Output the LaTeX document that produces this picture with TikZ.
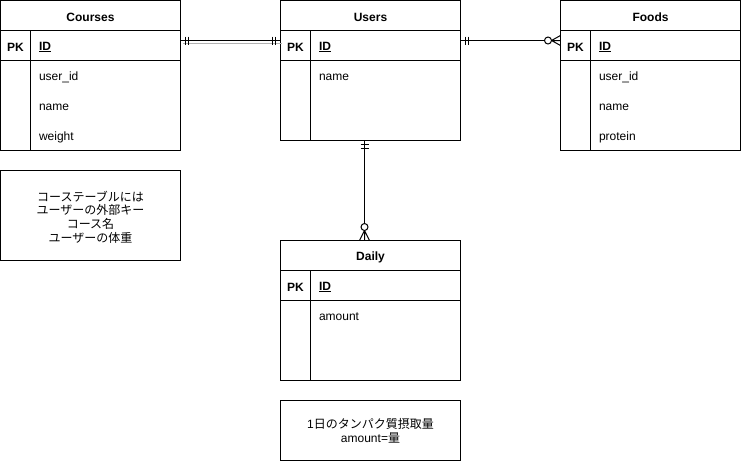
\documentclass[tikz,border=0pt]{standalone}
\usepackage{fontspec}
\setmainfont{Liberation Sans}
\newfontfamily\jp{Noto Sans CJK JP}
\begin{document}
\begin{tikzpicture}[x=1pt,y=-1pt,line width=1pt,
  tbl/.style={draw,rectangle,anchor=north west,minimum width=180pt,inner sep=0pt,outer sep=0pt},
  hdr/.style={font=\fontsize{12}{14}\selectfont\bfseries,inner sep=0pt,yshift=-1.5pt},
  pkl/.style={font=\fontsize{12}{14}\selectfont\bfseries,inner sep=0pt,yshift=-1.5pt},
  fld/.style={font=\fontsize{12}{14}\selectfont,inner sep=0pt,anchor=west,yshift=-1.5pt},
  note/.style={draw,rectangle,anchor=north west,minimum width=180pt,inner sep=0pt,outer sep=0pt},
  notetxt/.style={font=\fontsize{12}{13.7}\selectfont,align=center,inner sep=0pt},
  rel/.style={line width=1pt},
  relmark/.style={line width=1pt}]
\useasboundingbox (0,0) rectangle (741,461);

% ---------- Courses ----------
\node[tbl,minimum height=150pt] (courses) at (0.5,0.5) {};
\draw ([yshift=-30pt]courses.north west) -- ([yshift=-30pt]courses.north east);
\draw ([yshift=-60pt]courses.north west) -- ([yshift=-60pt]courses.north east);
\draw ([xshift=30pt,yshift=-30pt]courses.north west) -- ([xshift=30pt]courses.south west);
\node[hdr] (coursesT) at ([yshift=-15pt]courses.north) {Courses};
\node[pkl] (coursesPK) at ([xshift=15pt,yshift=-45pt]courses.north west) {PK};
\node[fld,font=\fontsize{12}{14}\selectfont\bfseries] (coursesID) at ([xshift=38pt,yshift=-45pt]courses.north west) {\underline{ID}};
\node[fld] (coursesF1) at ([xshift=38pt,yshift=-75pt]courses.north west) {user\_id};
\node[fld] (coursesF2) at ([xshift=38pt,yshift=-105pt]courses.north west) {name};
\node[fld] (coursesF3) at ([xshift=38pt,yshift=-135pt]courses.north west) {weight};

% ---------- Users ----------
\node[tbl,minimum height=140pt] (users) at (280.5,0.5) {};
\draw ([yshift=-30pt]users.north west) -- ([yshift=-30pt]users.north east);
\draw ([yshift=-60pt]users.north west) -- ([yshift=-60pt]users.north east);
\draw ([xshift=30pt,yshift=-30pt]users.north west) -- ([xshift=30pt]users.south west);
\node[hdr] (usersT) at ([yshift=-15pt]users.north) {Users};
\node[pkl] (usersPK) at ([xshift=15pt,yshift=-45pt]users.north west) {PK};
\node[fld,font=\fontsize{12}{14}\selectfont\bfseries] (usersID) at ([xshift=38pt,yshift=-45pt]users.north west) {\underline{ID}};
\node[fld] (usersF1) at ([xshift=38pt,yshift=-75pt]users.north west) {name};

% ---------- Foods ----------
\node[tbl,minimum height=150pt] (foods) at (560.5,0.5) {};
\draw ([yshift=-30pt]foods.north west) -- ([yshift=-30pt]foods.north east);
\draw ([yshift=-60pt]foods.north west) -- ([yshift=-60pt]foods.north east);
\draw ([xshift=30pt,yshift=-30pt]foods.north west) -- ([xshift=30pt]foods.south west);
\node[hdr] (foodsT) at ([yshift=-15pt]foods.north) {Foods};
\node[pkl] (foodsPK) at ([xshift=15pt,yshift=-45pt]foods.north west) {PK};
\node[fld,font=\fontsize{12}{14}\selectfont\bfseries] (foodsID) at ([xshift=38pt,yshift=-45pt]foods.north west) {\underline{ID}};
\node[fld] (foodsF1) at ([xshift=38pt,yshift=-75pt]foods.north west) {user\_id};
\node[fld] (foodsF2) at ([xshift=38pt,yshift=-105pt]foods.north west) {name};
\node[fld] (foodsF3) at ([xshift=38pt,yshift=-135pt]foods.north west) {protein};

% ---------- Daily ----------
\node[tbl,minimum height=140pt] (daily) at (280.5,240.5) {};
\draw ([yshift=-30pt]daily.north west) -- ([yshift=-30pt]daily.north east);
\draw ([yshift=-60pt]daily.north west) -- ([yshift=-60pt]daily.north east);
\draw ([xshift=30pt,yshift=-30pt]daily.north west) -- ([xshift=30pt]daily.south west);
\node[hdr] (dailyT) at ([yshift=-15pt]daily.north) {Daily};
\node[pkl] (dailyPK) at ([xshift=15pt,yshift=-45pt]daily.north west) {PK};
\node[fld,font=\fontsize{12}{14}\selectfont\bfseries] (dailyID) at ([xshift=38pt,yshift=-45pt]daily.north west) {\underline{ID}};
\node[fld] (dailyF1) at ([xshift=38pt,yshift=-75pt]daily.north west) {amount};

% ---------- Notes ----------
\node[note,minimum height=90pt] (note1) at (0.5,170.5) {};
\node[notetxt,font=\jp\fontsize{12}{13.7}\selectfont] (note1txt) at ([yshift=-1.5pt]note1.center)
  {コーステーブルには\\ユーザーの外部キー\\コース名\\ユーザーの体重};
\node[note,minimum height=60pt] (note2) at (280.5,400.5) {};
\node[notetxt] (note2txt) at ([yshift=-0.5pt]note2.center)
  {1{\jp 日のタンパク質摂取量}\\amount={\jp 量}};

% ---------- Connectors ----------
% Courses -- Users (one to one)
\coordinate (cuA) at (180.5,40.5);
\coordinate (cuB) at (280.5,40.5);
\draw[black!30,line width=1pt] (183,43.5) -- (282,43.5);
\draw[rel] (cuA) -- (cuB);
\draw[relmark] (185.5,36.5) -- (185.5,44.5) (188.5,36.5) -- (188.5,44.5);
\draw[relmark] (272.5,36.5) -- (272.5,44.5) (275.5,36.5) -- (275.5,44.5);

% Users -- Foods (one to zero-or-many)
\coordinate (ufA) at (460.5,40.5);
\coordinate (ufB) at (560.5,40.5);
\coordinate (ufC) at (544.5,40.5);
\draw[rel] (ufA) -- (ufC);
\draw[relmark] (465.5,36.5) -- (465.5,44.5) (468.5,36.5) -- (468.5,44.5);
\draw[relmark] (548,40.5) circle[radius=3.5pt];
\draw[relmark] (551.5,40.5) -- (560.5,35.5) (551.5,40.5) -- (ufB) (551.5,40.5) -- (560.5,45.5);

% Users -- Daily (one to zero-or-many)
\coordinate (udA) at (364.5,140.5);
\coordinate (udB) at (364.5,240.5);
\coordinate (udC) at (364.5,223.5);
\draw[rel] (udA) -- (udC);
\draw[relmark] (360.5,144.5) -- (368.5,144.5) (360.5,148.5) -- (368.5,148.5);
\draw[relmark] (364.5,227) circle[radius=3.5pt];
\draw[relmark] (364.5,230.5) -- (359.5,240.5) (364.5,230.5) -- (udB) (364.5,230.5) -- (369.5,240.5);
\end{tikzpicture}
\end{document}
